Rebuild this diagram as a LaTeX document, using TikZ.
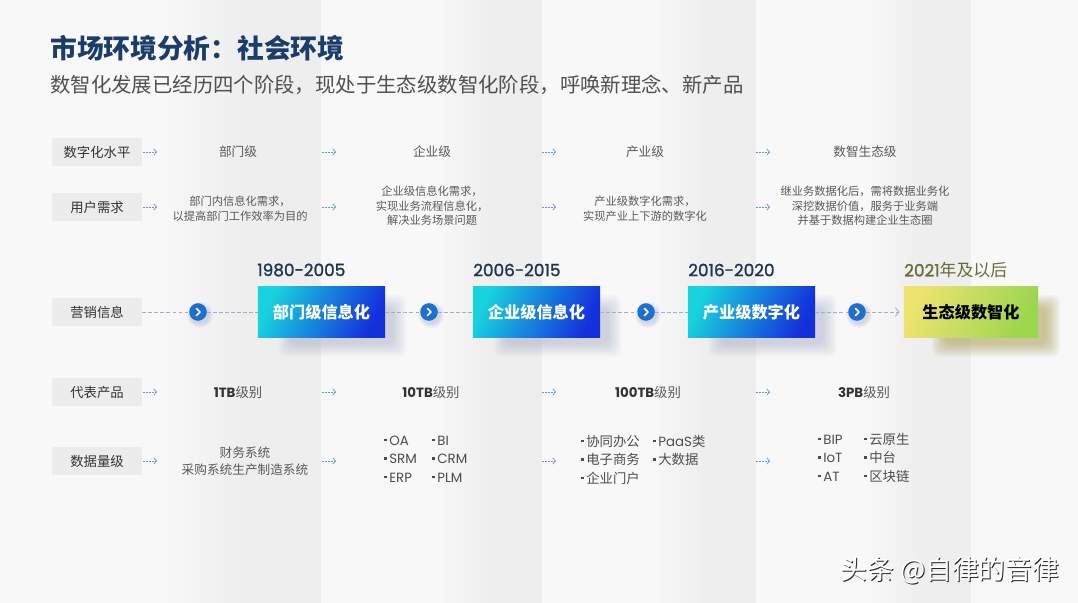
\documentclass[tikz,border=0pt]{standalone}
\usepackage{fontspec}
\setmainfont{Noto Sans CJK SC}
\newfontfamily\numfont{Poppins}
\newfontfamily\yearfont{Poppins}[RawFeature={embolden=1.3}]
\usetikzlibrary{arrows.meta}

\definecolor{bglight}{HTML}{F8F8F8}
\definecolor{bgdark}{HTML}{EEEEEE}
\definecolor{labelgray}{HTML}{ECECEC}
\definecolor{titleblue}{HTML}{1B3D6B}
\definecolor{subgray}{HTML}{505050}
\definecolor{txtgray}{HTML}{595959}
\definecolor{arrowblue}{HTML}{5B9BD5}
\definecolor{lineblue}{HTML}{9AB0CC}
\definecolor{dotblue}{HTML}{1E6FD0}
\definecolor{boxcyan}{HTML}{18D2DE}
\definecolor{boxblue}{HTML}{1430DC}
\definecolor{boxyellow}{HTML}{EDE36F}
\definecolor{boxgreen}{HTML}{9CD54E}
\definecolor{yearnavy}{HTML}{1F3550}
\definecolor{yearolive}{HTML}{6B6B35}
\definecolor{shadeblue}{HTML}{6E7FA8}
\definecolor{shadeolive}{HTML}{A89A45}

\newcommand{\itemdot}{\raisebox{0.3em}{\rule{1.6pt}{1.6pt}}\hspace{2pt}}
% soft shadow under a stage box: centre x, centre y, colour
\newcommand{\stageshadow}[3]{%
	\foreach \k in {0,...,8}{
		\fill[#3, opacity=0.035, rounded corners=5pt]
			({#1-30-\k*1.6},{#2-4-\k*1.6}) rectangle ({#1+72+\k*1.6},{#2+32+\k*1.6});
	}}
% soft shadow under a timeline dot
\newcommand{\dotshadow}[2]{%
	\foreach \k in {0,...,3}{
		\fill[shadeblue, opacity=0.07] ({#1+2},{#2+3}) circle[radius={6.5pt+\k*0.9pt}];
	}}

\tikzset{
	rowlabel/.style={fill=labelgray, minimum width=2.25cm, minimum height=0.72cm, inner sep=0pt, font=\fontsize{9.5}{11}\selectfont, text=black!80},
	leveltext/.style={font=\fontsize{9}{11}\selectfont, text=txtgray},
	needtext/.style={align=center, font=\fontsize{8}{10.4}\selectfont, text=txtgray},
	smallarrow/.style={draw=arrowblue, line width=0.5pt, dash pattern=on 1.2pt off 0.9pt, -{Straight Barb[length=2pt, width=4.5pt]}},
	timeline/.style={draw=lineblue, line width=0.6pt, dash pattern=on 2.5pt off 1.8pt},
	stagedot/.style={circle, fill=dotblue, minimum size=0.44cm, inner sep=0pt,
		path picture={\draw[white, line width=1.1pt, line cap=round, line join=round] ([xshift=-1.2pt, yshift=2.6pt]path picture bounding box.center) -- ++(2.6pt,-2.6pt) -- ++(-2.6pt,-2.6pt);}},
	stagebox/.style={minimum width=3.175cm, minimum height=1.25cm, inner sep=0pt, font=\fontsize{11.5}{13}\selectfont\bfseries, text=white,
		top color=boxcyan, bottom color=boxblue, shading angle=65},
	yearlabel/.style={anchor=west, inner sep=0pt, font=\fontsize{12}{14}\selectfont, text=yearnavy},
	sizetext/.style={font=\fontsize{9.5}{11}\selectfont, text=txtgray},
	prodlist/.style={anchor=west, inner sep=0pt, font=\fontsize{9.5}{13.2}\selectfont, text=black!70}
}

\begin{document}
\begin{tikzpicture}[x=0.025cm, y=-0.025cm]
	\useasboundingbox (0,0) rectangle (1078,603);

	% column bands
	\foreach \xa/\xb in {0/321, 321/542, 542/756, 756/971} {
		\fill[bglight] (\xa,0) rectangle (\xb,603);
		\shade[left color=bglight, right color=bgdark] ({\xa+0.5*(\xb-\xa)},0) rectangle ({\xa+0.76*(\xb-\xa)},603);
		\fill[bgdark] ({\xa+0.76*(\xb-\xa)},0) rectangle (\xb,603);
	}
	\fill[bglight] (971,0) rectangle (1078,603);

	% title
	\node[anchor=west, inner sep=0pt, font=\fontsize{19}{22}\selectfont\bfseries, text=titleblue] (title) at (50,48) {市场环境分析：社会环境};
	\node[anchor=west, inner sep=0pt, font=\fontsize{14.5}{17}\selectfont, text=subgray] (subtitle) at (50,85) {数智化发展已经历四个阶段，现处于生态级数智化阶段，呼唤新理念、新产品};

	% row labels
	\node[rowlabel] (lab1) at (97,152) {数字化水平};
	\node[rowlabel] (lab2) at (97,207) {用户需求};
	\node[rowlabel] (lab3) at (97,312) {营销信息};
	\node[rowlabel] (lab4) at (97,392) {代表产品};
	\node[rowlabel] (lab5) at (97,461) {数据量级};

	% small arrows
	\foreach \r/\yy in {1/152, 2/207, 4/392, 5/461} {
		\foreach \c/\xx in {1/143, 2/322, 3/542, 4/756} {
			\coordinate (ar\r\c) at (\xx,\yy);
			\draw[smallarrow] (ar\r\c) -- ++(14,0);
		}
	}

	% digital level
	\node[leveltext] (lev1) at (238,152) {部门级};
	\node[leveltext] (lev2) at (432,152) {企业级};
	\node[leveltext] (lev3) at (645,152) {产业级};
	\node[leveltext] (lev4) at (865,152) {数智生态级};

	% user needs
	\node[needtext] (need1) at (240,208.5) {部门内信息化需求，\\以提高部门工作效率为目的};
	\node[needtext] (need2) at (432,206) {企业级信息化需求，\\实现业务流程信息化，\\解决业务场景问题};
	\node[needtext] (need3) at (645,208.5) {产业级数字化需求，\\实现产业上下游的数字化};
	\node[needtext] (need4) at (865,206) {继业务数据化后，需将数据业务化\\深挖数据价值，服务于业务端\\并基于数据构建企业生态圈};

	% timeline
	\stageshadow{321.5}{312}{shadeblue}
	\stageshadow{536.5}{312}{shadeblue}
	\stageshadow{751.5}{312}{shadeblue}
	\stageshadow{975}{312}{shadeolive}
	\stageshadow{975}{312}{shadeolive}
	\foreach \xx in {198, 429, 646, 857} {
		\dotshadow{\xx}{312}
	}

	\node[stagebox] (box1) at (321.5,312) {部门级信息化};
	\node[stagebox] (box2) at (536.5,312) {企业级信息化};
	\node[stagebox] (box3) at (751.5,312) {产业级数字化};
	\node[stagebox, minimum width=3.35cm, top color=boxyellow, bottom color=boxgreen, shading angle=65, text=black] (box4) at (971,312) {生态级数智化};

	\node[yearlabel] (year1) at (257,270) {\yearfont 1980-2005};
	\node[yearlabel] (year2) at (473,270) {\yearfont 2006-2015};
	\node[yearlabel] (year3) at (688,270) {\yearfont 2016-2020};
	\node[yearlabel, text=yearolive] (year4) at (904,270) {{\yearfont 2021}年及以后};

	\node[stagedot] (dot1) at (198,312) {};
	\node[stagedot] (dot2) at (429,312) {};
	\node[stagedot] (dot3) at (646,312) {};
	\node[stagedot] (dot4) at (857,312) {};

	\draw[timeline] (lab3) -- (dot1);
	\draw[timeline] (dot1) -- (box1);
	\draw[timeline] (box1) -- (dot2);
	\draw[timeline] (dot2) -- (box2);
	\draw[timeline] (box2) -- (dot3);
	\draw[timeline] (dot3) -- (box3);
	\draw[timeline] (box3) -- (dot4);
	\draw[timeline, -{Straight Barb[length=2.5pt, width=6pt]}, shorten >=3pt] (dot4) -- (box4);

	% data size
	\node[sizetext] (size1) at (238,392) {{\numfont\bfseries\color{black!80}1TB}级别};
	\node[sizetext] (size2) at (431,392) {{\numfont\bfseries\color{black!80}10TB}级别};
	\node[sizetext] (size3) at (648,392) {{\numfont\bfseries\color{black!80}100TB}级别};
	\node[sizetext] (size4) at (864,392) {{\numfont\bfseries\color{black!80}3PB}级别};

	% products
	\node[needtext, font=\fontsize{9}{12}\selectfont] (prod1) at (245,461) {财务系统\\采购系统生产制造系统};
	\node[prodlist] (prod2) at (384,460) {\begin{tabular}{@{}p{1.2cm}@{}l@{}}
		\itemdot{\numfont OA} & \itemdot{\numfont BI}\\
		\itemdot{\numfont SRM} & \itemdot{\numfont CRM}\\
		\itemdot{\numfont ERP} & \itemdot{\numfont PLM}
	\end{tabular}};
	\node[prodlist] (prod3) at (581,461) {\begin{tabular}{@{}p{1.8cm}@{}l@{}}
		\itemdot 协同办公 & \itemdot{\numfont PaaS}类\\
		\itemdot 电子商务 & \itemdot 大数据\\
		\itemdot 企业门户 &
	\end{tabular}};
	\node[prodlist] (prod4) at (818,459) {\begin{tabular}{@{}p{1.15cm}@{}l@{}}
		\itemdot{\numfont BIP} & \itemdot 云原生\\
		\itemdot{\numfont IoT} & \itemdot 中台\\
		\itemdot{\numfont AT} & \itemdot 区块链
	\end{tabular}};

	% watermark
	\node[font=\fontsize{19}{22}\selectfont, text=black!85] (markshade) at (951,571) {头条 @自律的音律};
	\node[font=\fontsize{19}{22}\selectfont, text=white] (mark) at (950,570) {头条 @自律的音律};
\end{tikzpicture}
\end{document}
